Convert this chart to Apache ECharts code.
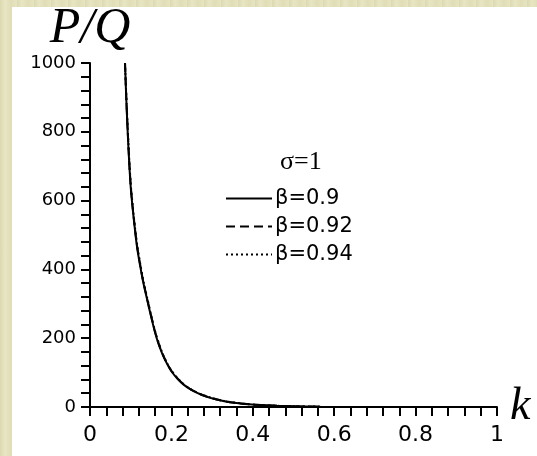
<!DOCTYPE html>
<html>
<head>
<meta charset="utf-8">
<script src="https://cdn.jsdelivr.net/npm/echarts@6/dist/echarts.min.js"></script>
<style>
  html, body { margin: 0; padding: 0; width: 537px; height: 456px; overflow: hidden; }
  body {
    background-color: #e6e3c0;
    background-image: repeating-linear-gradient(90deg, rgba(200,196,150,0.35) 0px, rgba(240,238,210,0.2) 5px, rgba(210,206,160,0.3) 11px, rgba(235,232,200,0.2) 17px);
  }
  #chart { position: absolute; left: 12px; top: 7px; width: 525px; height: 449px; background: #ffffff; }
</style>
</head>
<body>
<div id="chart"></div>
<script>
// data
var kValues = [0.086, 0.090, 0.095, 0.100, 0.105, 0.110, 0.115, 0.120, 0.125, 0.130, 0.140, 0.150, 0.160, 0.170, 0.180, 0.190, 0.200, 0.215, 0.230, 0.250, 0.275, 0.300, 0.330, 0.360, 0.390, 0.420, 0.460, 0.510, 0.566];
var beta090 = [1000, 870, 740, 640, 575, 520, 470, 432, 399, 367, 314, 263, 216, 178, 148, 124, 104, 82, 65, 49, 35, 25, 17, 11.5, 8, 5.5, 3.5, 2, 1];
var beta092 = [1000, 876, 746, 645, 579, 524, 474, 436, 402, 370, 317, 266, 218, 180, 150, 125, 105, 83, 66, 50, 35.5, 25.5, 17, 11.5, 8, 5.5, 3.5, 2, 1];
var beta094 = [1000, 882, 752, 650, 584, 528, 478, 440, 406, 373, 320, 268, 220, 182, 151, 126, 106, 84, 66, 50, 36, 26, 17.5, 12, 8, 5.5, 3.5, 2, 1];
var seriesNames = ['β=0.9', 'β=0.92', 'β=0.94'];
var dashTypes = ['solid', [9, 5], [2, 3]];

window.onload = function() {
	drawChart();
}

function pairs (ys) {
	return kValues.map(function (k, i) { return [k, ys[i]]; });
}

function drawChart () {
	var myChart = echarts.init(document.getElementById('chart'));
	var allValues = [beta090, beta092, beta094];

	var series = allValues.map(function (ys, i) {
		return {
			name: seriesNames[i],
			type: 'line',
			data: pairs(ys),
			smooth: 0.3,
			symbol: 'none',
			lineStyle: { color: '#000', width: 2, type: dashTypes[i] },
			itemStyle: { color: '#000' }
		};
	});

	var axisText = { color: '#000', fontFamily: 'DejaVu Sans' };

	var option = {
		animation: false,
		backgroundColor: '#ffffff',
		title: {
			text: 'σ=1',
			left: 263,
			top: 137,
			textStyle: { fontFamily: 'Liberation Serif', fontSize: 26, fontWeight: 'normal', color: '#000' }
		},
		legend: {
			orient: 'vertical',
			left: 208,
			top: 176,
			itemWidth: 46,
			itemHeight: 14,
			itemGap: 7,
			itemStyle: { opacity: 0 },
			textStyle: { fontFamily: 'DejaVu Sans', fontSize: 21, color: '#000', padding: [0, 0, 0, -2] },
			data: seriesNames
		},
		grid: { left: 78, top: 56, right: 40, bottom: 49, containLabel: false, outerBoundsMode: 'none' },
		xAxis: {
			type: 'value',
			min: 0,
			max: 1,
			interval: 0.2,
			name: 'k',
			nameLocation: 'end',
			nameGap: 7,
			nameTextStyle: { fontFamily: 'Liberation Serif', fontStyle: 'italic', fontSize: 46, color: '#000' },
			axisLine: { lineStyle: { color: '#000', width: 2 } },
			axisTick: { length: 9, lineStyle: { color: '#000', width: 2 } },
			minorTick: { show: true, splitNumber: 5, length: 9, lineStyle: { color: '#000', width: 2 } },
			splitLine: { show: false },
			axisLabel: Object.assign({ fontSize: 22, margin: 17 }, axisText)
		},
		yAxis: {
			type: 'value',
			min: 0,
			max: 1000,
			interval: 200,
			name: 'P/Q',
			nameLocation: 'end',
			nameGap: 9,
			nameTextStyle: { fontFamily: 'Liberation Serif', fontStyle: 'italic', fontSize: 50, color: '#000' },
			axisLine: { lineStyle: { color: '#000', width: 2 } },
			axisTick: { length: 9, lineStyle: { color: '#000', width: 2 } },
			minorTick: { show: true, splitNumber: 5, length: 9, lineStyle: { color: '#000', width: 2 } },
			splitLine: { show: false },
			axisLabel: Object.assign({ fontSize: 18, margin: 14, formatter: function (v) { return String(v); } }, axisText)
		},
		series: series
	};

	myChart.setOption(option);
}
</script>
</body>
</html>
